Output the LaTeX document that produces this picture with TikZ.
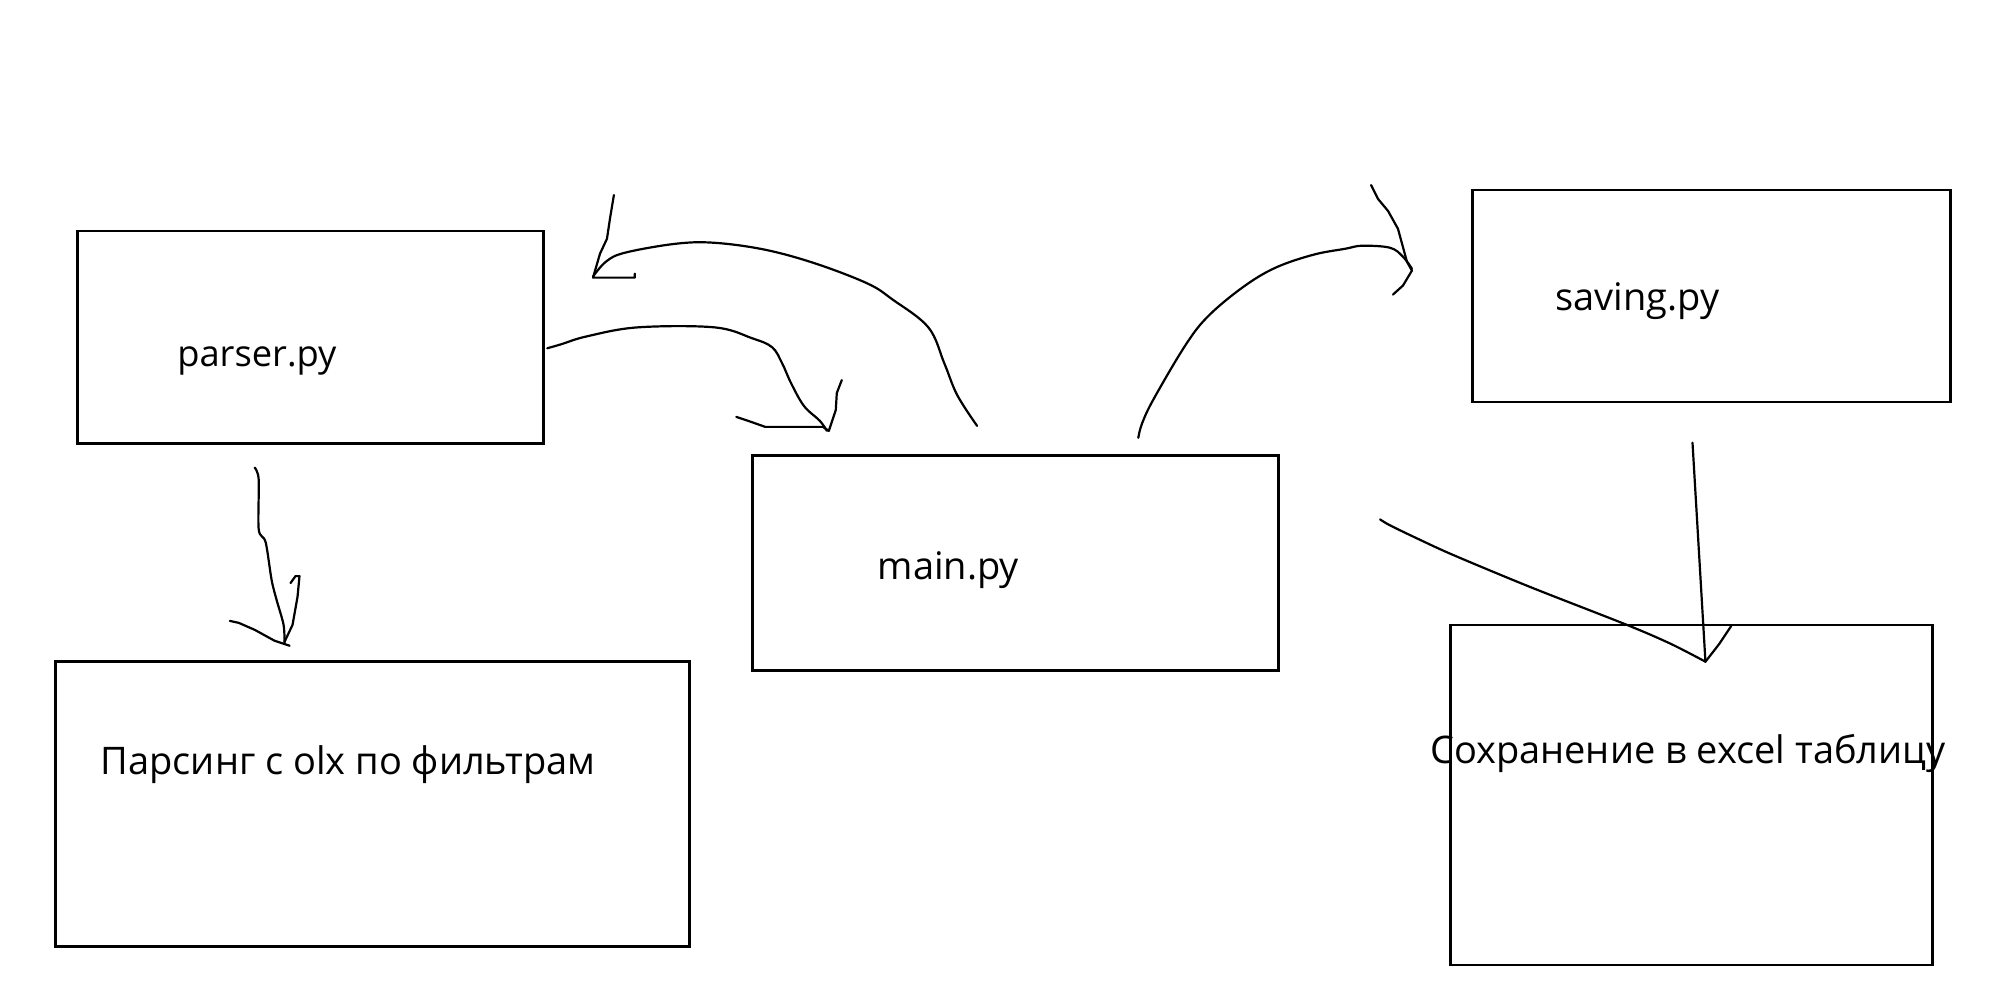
\documentclass[tikz,border=0pt]{standalone}
\usepackage{fontspec}
\setmainfont{Open Sans}
\begin{document}
\begin{tikzpicture}[x=0.995pt,y=-0.995pt,
  box/.style={draw=black,line width=2.6pt,line join=miter},
  lbl/.style={anchor=base west,inner sep=0pt,font=\fontsize{38}{45}\selectfont},
  pen/.style={draw=black,line width=2.2pt,line cap=round,line join=round}]
\useasboundingbox (0,0) rectangle (2010.05,1005.03);
\fill[white] (0,0) rectangle (2010.05,1005.03);
% boxes
\draw[box] (78,232) coordinate (parserTL) rectangle (546,446);
\draw[box] (56,665) coordinate (parsTL) rectangle (693,951);
\draw[box] (756,458) coordinate (mainTL) rectangle (1285,674);
\draw[box] (1480,191) coordinate (savTL) rectangle (1960,404);
\draw[box] (1458,628) coordinate (sohrTL) rectangle (1942,970);
% labels
\node[lbl,font=\fontsize{36.3}{43}\selectfont] (tparser) at (178,368) {parser.py};
\node[lbl] (tpars) at (101,778) {Парсинг с olx по фильтрам};
\node[lbl] (tmain) at (882,582) {main.py};
\node[lbl] (tsaving) at (1563,312) {saving.py};
\node[lbl] (tsohr) at (1437,767) {Сохранение в excel таблицу};
% parser -> main
\draw[pen] plot[smooth,tension=0.6] coordinates {(550,350) (564,346) (590,338) (641,329) (718,329) (756,340) (776,349) (786,365) (795,385) (808,408) (824,423) (831,433)};
\draw[pen] (740,419) -- (752,423) -- (769,429) -- (827,429) -- (833,433) -- (840,412) -- (841,395) -- (846,382);
% main -> parser
\draw[pen] plot[smooth,tension=0.6] coordinates {(982,428) (962,397) (949,365) (933,329) (897,301) (872,285) (820,265) (769,251) (718,244) (679,245) (628,254) (609,263) (596,278)};
\draw[pen] (638,275) -- (638,279) -- (596,279) -- (603,255) -- (610,240) -- (613,220) -- (617,196);
% main -> saving
\draw[pen] plot[smooth,tension=0.6] coordinates {(1144,440) (1148,425) (1160,400) (1192,346) (1215,317) (1250,288) (1282,269) (1320,256) (1352,250) (1369,247) (1397,249) (1410,258) (1419,270)};
\draw[pen] (1378,186) -- (1385,200) -- (1395,212) -- (1405,230) -- (1414,263) -- (1419,272) -- (1410,287) -- (1400,296);
% parser -> Парсинг
\draw[pen] plot[smooth,tension=0.5] coordinates {(256,470) (260,482) (260,532) (267,545) (273,583) (278,603) (285,628) (286,647)};
\draw[pen] (231,624) -- (240,626) -- (256,633) -- (276,644) -- (291,649);
\draw[pen] (286,645) -- (294,628) -- (299,600) -- (301,579) -- (297,579) -- (292,586);
% saving -> Сохранение
\draw[pen] (1701,445) -- (1714,665);
\draw[pen] (1714,665) -- (1728,647) -- (1740,629);
\draw[pen] plot[smooth,tension=0.5] coordinates {(1387,522) (1397,528) (1426,542) (1461,558) (1538,590) (1635,628) (1679,647) (1714,665)};
\end{tikzpicture}
\end{document}
